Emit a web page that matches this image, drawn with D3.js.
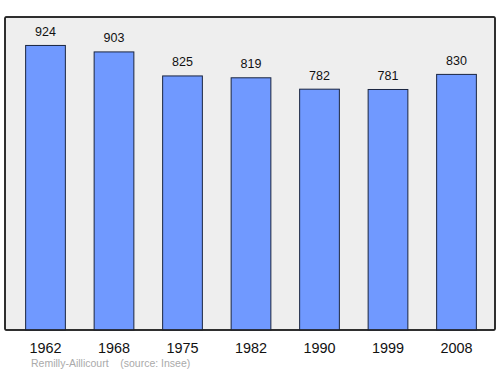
<!DOCTYPE html>
<meta charset="utf-8">
<script src="https://d3js.org/d3.v7.min.js"></script>
<style>
  body { margin: 0; background: #fff; }
  text { font-family: "Liberation Sans", Arial, sans-serif; }
</style>
<div id="chart"></div>
<script>
// Population by census year
const years = ["1962", "1968", "1975", "1982", "1990", "1999", "2008"];
const population = [924, 903, 825, 819, 782, 781, 830];
const caption = "Remilly-Aillicourt    (source: Insee)";

const width = 500, height = 374;
const frame = {left: 5, top: 17, right: 495, bottom: 330};

const svg = d3.select("#chart")
  .append("svg")
  .attr("width", width)
  .attr("height", height);

// background frame
svg.append("rect")
  .attr("x", frame.left)
  .attr("y", frame.top)
  .attr("width", frame.right - frame.left)
  .attr("height", frame.bottom - frame.top)
  .attr("rx", 1.5)
  .attr("fill", "#eeeeee")
  .attr("stroke", "#222")
  .attr("stroke-width", 1.5);

const x = d3.scaleBand()
  .domain(years)
  .range([11.25, 490.75])
  .paddingInner(0.42)
  .paddingOuter(0.21);

const y = d3.scaleLinear()
  .domain([0, d3.max(population) * 1.1])
  .range([frame.bottom, frame.top]);

const data = years.map((yr, i) => ({year: yr, value: population[i]}));

// bars
svg.append("g")
  .selectAll("rect")
  .data(data)
  .join("rect")
    .attr("x", d => x(d.year))
    .attr("y", d => y(d.value))
    .attr("width", x.bandwidth())
    .attr("height", d => frame.bottom - y(d.value))
    .attr("fill", "#7099ff")
    .attr("stroke", "#1a2540")
    .attr("stroke-width", 1);

// value labels
svg.append("g")
  .selectAll("text")
  .data(data)
  .join("text")
    .attr("x", d => x(d.year) + x.bandwidth() / 2)
    .attr("y", d => y(d.value) - 9.5)
    .attr("text-anchor", "middle")
    .attr("font-size", 12.5)
    .attr("fill", "#111")
    .text(d => d.value);

// redraw frame border on top so bars sit inside it
svg.append("rect")
  .attr("x", frame.left)
  .attr("y", frame.top)
  .attr("width", frame.right - frame.left)
  .attr("height", frame.bottom - frame.top)
  .attr("rx", 1.5)
  .attr("fill", "none")
  .attr("stroke", "#222")
  .attr("stroke-width", 1.5);

// year axis
const xAxis = svg.append("g")
  .attr("transform", `translate(0, ${frame.bottom})`)
  .call(d3.axisBottom(x).tickSize(0).tickPadding(0));
xAxis.select(".domain").remove();
xAxis.selectAll("text")
  .attr("dy", null)
  .attr("y", 22.5)
  .attr("font-size", 14.4)
  .attr("font-family", "Liberation Sans, Arial, sans-serif")
  .attr("fill", "#111");

// caption
svg.append("text")
  .attr("x", 31)
  .attr("y", 367)
  .attr("font-size", 10.5)
  .attr("fill", "#aaaaaa")
  .attr("xml:space", "preserve")
  .style("white-space", "pre")
  .text(caption);
</script>
